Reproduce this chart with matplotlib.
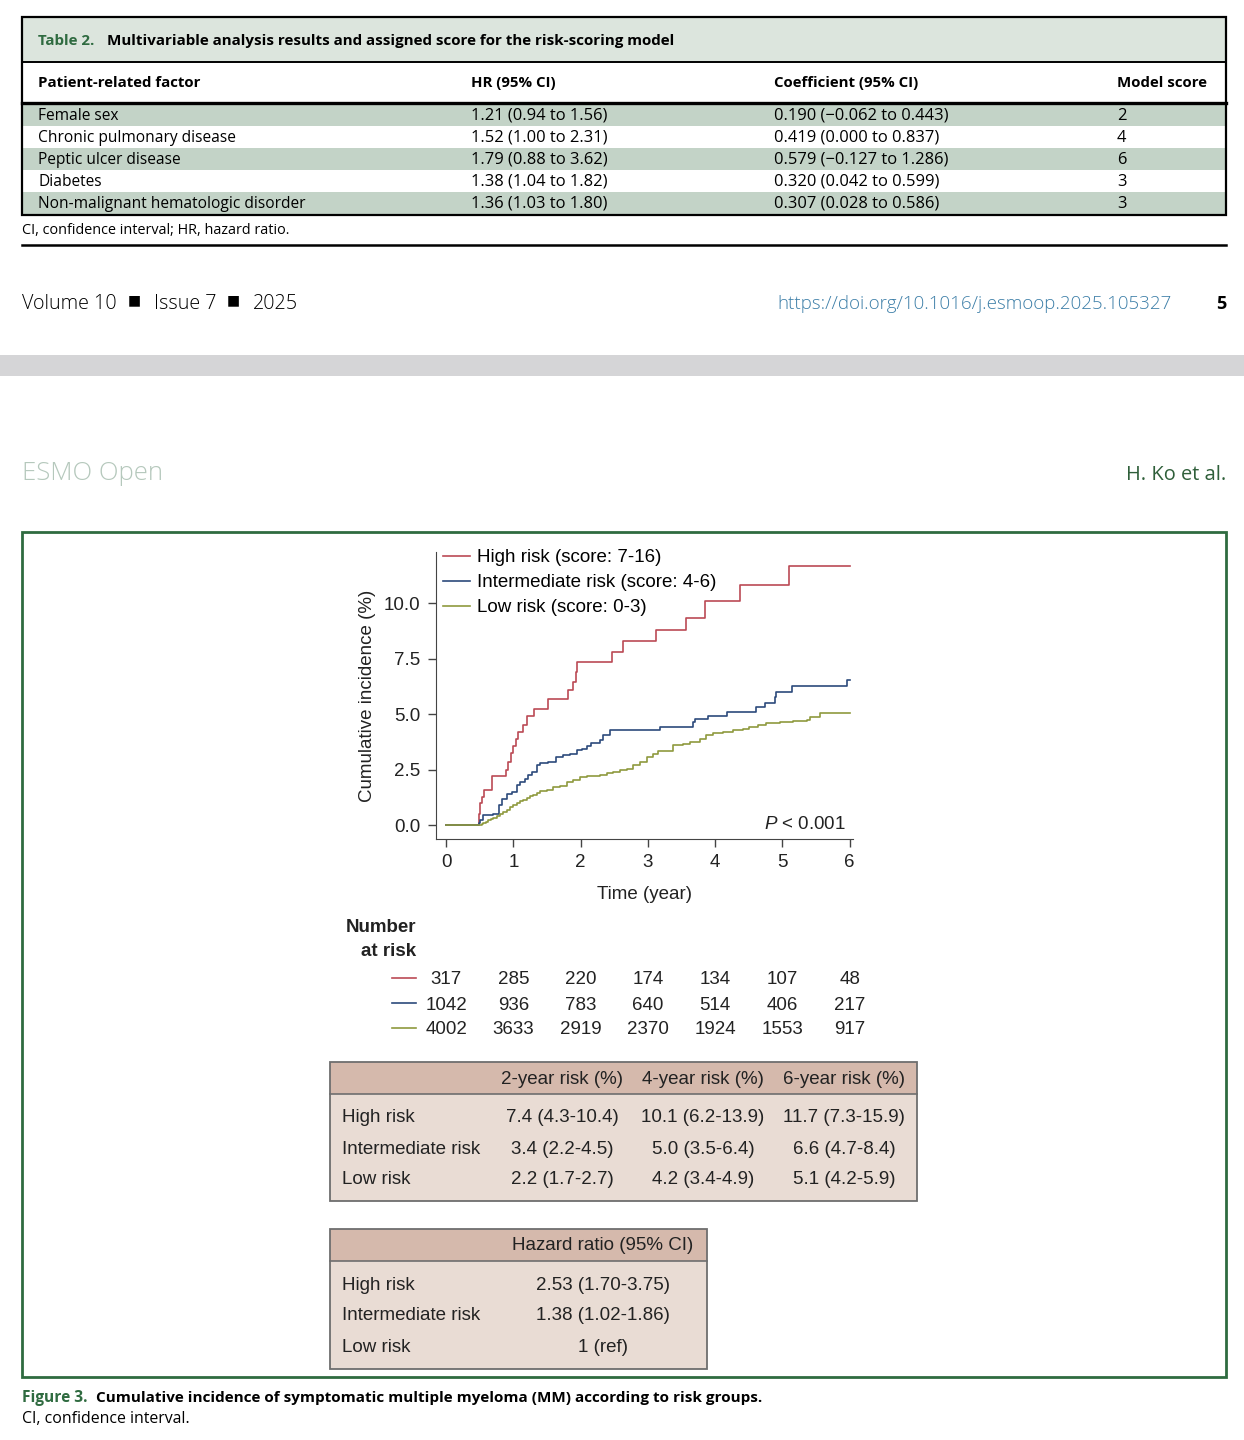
import numpy as np
import matplotlib.pyplot as plt
from matplotlib.patches import Rectangle
from matplotlib import transforms

plt.rcParams['mathtext.fontset'] = 'custom'
plt.rcParams['mathtext.it'] = 'Liberation Sans:italic'
plt.rcParams['mathtext.rm'] = 'Liberation Sans'

# ---- Table 2 data ----
factors = ["Female sex", "Chronic pulmonary disease", "Peptic ulcer disease",
           "Diabetes", "Non-malignant hematologic disorder"]
hr_ci = ["1.21 (0.94 to 1.56)", "1.52 (1.00 to 2.31)", "1.79 (0.88 to 3.62)",
         "1.38 (1.04 to 1.82)", "1.36 (1.03 to 1.80)"]
coef_ci = ["0.190 (\u22120.062 to 0.443)", "0.419 (0.000 to 0.837)",
           "0.579 (\u22120.127 to 1.286)", "0.320 (0.042 to 0.599)",
           "0.307 (0.028 to 0.586)"]
model_score = [2, 4, 6, 3, 3]
table_cols = ["Patient-related factor", "HR (95% CI)", "Coefficient (95% CI)", "Model score"]

# ---- cumulative incidence curves (time in years, incidence in %) ----
high_t = [0, 0.495, 0.51, 0.53, 0.56, 0.68, 0.89, 0.92, 0.97, 1.0, 1.04, 1.07,
          1.15, 1.21, 1.31, 1.52, 1.82, 1.89, 1.93, 1.94, 2.46, 2.63, 3.12,
          3.57, 3.85, 4.37, 5.10, 6.0]
high_v = [0, 0.5, 0.98, 1.28, 1.6, 2.2, 2.5, 2.85, 3.23, 3.55, 3.86, 4.2,
          4.5, 4.9, 5.25, 5.66, 6.08, 6.46, 6.9, 7.35, 7.8, 8.3, 8.8,
          9.35, 10.1, 10.8, 11.65, 11.65]

mid_t = [0, 0.495, 0.505, 0.55, 0.70, 0.78, 0.83, 0.90, 0.975, 1.05, 1.10, 1.17,
         1.22, 1.27, 1.35, 1.40, 1.52, 1.64, 1.74, 1.84, 1.94, 2.02, 2.09,
         2.16, 2.29, 2.34, 2.44, 3.18, 3.67, 3.70, 3.90, 4.18, 4.61, 4.74,
         4.89, 4.91, 5.14, 5.96, 6.0]
mid_v = [0, 0.1, 0.23, 0.45, 0.52, 0.9, 1.2, 1.42, 1.5, 1.8, 1.95, 2.1,
         2.25, 2.4, 2.7, 2.78, 2.85, 3.07, 3.15, 3.22, 3.38, 3.45, 3.55,
         3.68, 3.83, 4.08, 4.27, 4.4, 4.65, 4.76, 4.93, 5.1, 5.3, 5.5,
         5.78, 6.0, 6.25, 6.55, 6.55]

low_t = [0, 0.495, 0.53, 0.555, 0.59, 0.629, 0.665, 0.703, 0.75, 0.802, 0.85,
         0.901, 0.95, 1.0, 1.05, 1.099, 1.15, 1.198, 1.25, 1.297, 1.35,
         1.396, 1.495, 1.594, 1.693, 1.792, 1.891, 1.99, 2.089, 2.188, 2.287,
         2.386, 2.485, 2.584, 2.683, 2.782, 2.881, 2.98, 3.08, 3.154, 3.38,
         3.52, 3.63, 3.77, 3.87, 3.97, 4.12, 4.27, 4.42, 4.51, 4.64, 4.76,
         4.96, 5.16, 5.36, 5.41, 5.56, 6.0]
low_v = [0, 0.02, 0.06, 0.1, 0.16, 0.23, 0.28, 0.33, 0.42, 0.5, 0.6,
         0.7, 0.8, 0.9, 1.0, 1.08, 1.15, 1.23, 1.3, 1.38, 1.45,
         1.52, 1.6, 1.7, 1.76, 1.93, 2.03, 2.18, 2.2, 2.22, 2.25,
         2.35, 2.4, 2.5, 2.55, 2.7, 2.85, 3.05, 3.22, 3.34, 3.6,
         3.66, 3.75, 3.9, 4.05, 4.16, 4.2, 4.28, 4.35, 4.43, 4.5, 4.58,
         4.65, 4.7, 4.73, 4.88, 5.05, 5.05]

curve_labels = ["High risk (score: 7-16)", "Intermediate risk (score: 4-6)", "Low risk (score: 0-3)"]
curve_colors = ["#bb4a55", "#2c4a7c", "#8f9a3e"]

risk_times = [0, 1, 2, 3, 4, 5, 6]
at_risk_high = [317, 285, 220, 174, 134, 107, 48]
at_risk_mid = [1042, 936, 783, 640, 514, 406, 217]
at_risk_low = [4002, 3633, 2919, 2370, 1924, 1553, 917]

groups = ["High risk", "Intermediate risk", "Low risk"]
risk_cols = ["2-year risk (%)", "4-year risk (%)", "6-year risk (%)"]
risk_high = ["7.4 (4.3-10.4)", "10.1 (6.2-13.9)", "11.7 (7.3-15.9)"]
risk_mid = ["3.4 (2.2-4.5)", "5.0 (3.5-6.4)", "6.6 (4.7-8.4)"]
risk_low = ["2.2 (1.7-2.7)", "4.2 (3.4-4.9)", "5.1 (4.2-5.9)"]
hazard = ["2.53 (1.70-3.75)", "1.38 (1.02-1.86)", "1 (ref)"]

W, H = 1244, 1440
fig = plt.figure(figsize=(12.44, 14.40), dpi=100)
page = fig.add_axes([0, 0, 1, 1])
page.set_xlim(0, W)
page.set_ylim(H, 0)
page.axis('off')

JF = ['Open Sans', 'DejaVu Sans']
CF = ['Liberation Sans', 'DejaVu Sans']
green = '#2f6b40'
ink = '#222222'


def txt(x, y, s, size=11.2, family=JF, **kw):
    kw.setdefault('va', 'center')
    page.text(x, y + 2, s, fontsize=size, family=family, **kw)


# ---- Table 2 ----
page.add_patch(Rectangle((22, 17), 1204, 45, facecolor='#dce5dd', edgecolor='none'))
for i in range(len(factors)):
    if i % 2 == 0:
        page.add_patch(Rectangle((22, 104 + 22 * i), 1204, 22, facecolor='#c3d3c7', edgecolor='none'))
page.add_patch(Rectangle((22, 17), 1204, 198, facecolor='none', edgecolor='black', lw=1.6))
page.plot([22, 1226], [62, 62], color='black', lw=1.4)
page.plot([22, 1226], [103, 103], color='black', lw=2.4)
txt(38, 39, "Table 2.", size=10.9, color=green, weight='bold')
txt(107, 39, "Multivariable analysis results and assigned score for the risk-scoring model",
    size=10.9, weight='bold')
col_x = [38, 471, 774, 1117]
for cx, c in zip(col_x, table_cols):
    txt(cx, 81, c, size=10.8, weight='bold')
for i in range(len(factors)):
    y = 114 + 22 * i
    txt(col_x[0], y, factors[i])
    txt(col_x[1], y, hr_ci[i], size=11.9)
    txt(col_x[2], y, coef_ci[i], size=11.9)
    txt(col_x[3], y, str(model_score[i]), size=11.9)
txt(22, 228, "CI, confidence interval; HR, hazard ratio.", size=10.4)
page.plot([22, 1226], [245, 245], color='black', lw=1.8)

# ---- page footer / header ----
txt(22, 302, "Volume 10", size=14.2, weight='light')
txt(134, 298, "\u25a0", size=10, family=['DejaVu Sans'], ha='center')
txt(154, 302, "Issue 7", size=14.2, weight='light')
txt(233, 298, "\u25a0", size=10, family=['DejaVu Sans'], ha='center')
txt(253, 302, "2025", size=14.2, weight='light')
txt(1172, 302, "https://doi.org/10.1016/j.esmoop.2025.105327", size=13.5, weight='light',
    color='#3d7fa8', ha='right')
txt(1226, 302, "5", size=13, weight='bold', ha='right')
page.add_patch(Rectangle((0, 355), W, 21, facecolor='#d5d5d7', edgecolor='none'))
txt(22, 471, "ESMO Open", size=18.5, weight='light', color='#b5c8bc')
txt(1226, 473, "H. Ko et al.", size=14.4, color='#2f5f3a', ha='right')

# ---- figure frame ----
page.add_patch(Rectangle((22, 532), 1204, 845, facecolor='none', edgecolor=green, lw=2))

# ---- cumulative incidence plot ----
ax = fig.add_axes([436 / W, 1 - 839 / H, 417 / W, 287 / H])
ax.patch.set_alpha(0)
for t, v, lab, col in zip([high_t, mid_t, low_t], [high_v, mid_v, low_v], curve_labels, curve_colors):
    ax.plot(t, v, drawstyle='steps-post', color=col, lw=1.2, label=lab)
ax.set_xlim(-0.15, 6.05)
ax.set_ylim(-0.62, 12.3)
ax.set_xticks(risk_times)
ax.set_yticks([0, 2.5, 5, 7.5, 10])
ax.set_yticklabels(["0.0", "2.5", "5.0", "7.5", "10.0"])
for s in ['top', 'right']:
    ax.spines[s].set_visible(False)
for s in ['left', 'bottom']:
    ax.spines[s].set_color('#444444')
ax.tick_params(colors='#444444', labelcolor=ink, length=6, width=1, pad=5, labelsize=13.5)
for lab in ax.get_xticklabels() + ax.get_yticklabels():
    lab.set_family(CF)
ax.set_xlabel("Time (year)", fontsize=13.5, family=CF, color=ink)
ax.set_ylabel("Cumulative incidence (%)", fontsize=13.5, family=CF, color=ink)
ax.xaxis.set_label_coords(0.5, -0.163)
ax.yaxis.set_label_coords(-0.145, 0.5)
ax.text(5.95, 0.05, r"$\it{P}$ < 0.001", ha='right', va='center', fontsize=13.5, family=CF, color=ink)
ax.legend(loc='upper left', bbox_to_anchor=(443 / W, 1 - 549 / H), bbox_transform=fig.transFigure,
          frameon=False, borderpad=0, borderaxespad=0, handlelength=1.45, handletextpad=0.35,
          labelspacing=0.42, prop={'family': CF, 'size': 13.5})

# ---- number at risk ----
txt(416, 926, "Number", size=13.5, family=CF, weight='bold', ha='right', color=ink)
txt(416, 949, "at risk", size=13.5, family=CF, weight='bold', ha='right', color=ink)
blend = transforms.blended_transform_factory(ax.transData, page.transData)
for y, counts, col in zip([978, 1003, 1028], [at_risk_high, at_risk_mid, at_risk_low], curve_colors):
    page.plot([392, 416], [y, y], color=col, lw=1.2)
    for t, n in zip(risk_times, counts):
        page.text(t, y + 2, str(n), transform=blend, ha='center', va='center',
                  fontsize=13.5, family=CF, color=ink)

# ---- risk tables ----
def box(x0, y0, x1, y1, hy):
    page.add_patch(Rectangle((x0, y0), x1 - x0, y1 - y0, facecolor='#e9dcd4', edgecolor='none'))
    page.add_patch(Rectangle((x0, y0), x1 - x0, hy - y0, facecolor='#d5b9ac', edgecolor='none'))
    page.plot([x0, x1], [hy, hy], color='#6e6e6e', lw=1.2)
    page.add_patch(Rectangle((x0, y0), x1 - x0, y1 - y0, facecolor='none', edgecolor='#6e6e6e', lw=1.3))


box(330, 1062, 917, 1201, 1094)
rc_x = [562, 703, 844]
for cx, c in zip(rc_x, risk_cols):
    txt(cx, 1077, c, size=13.5, family=CF, ha='center', color=ink)
for y, g, vals in zip([1115, 1147, 1178], groups, [risk_high, risk_mid, risk_low]):
    txt(342, y, g, size=13.5, family=CF, color=ink)
    for cx, v in zip(rc_x, vals):
        txt(cx, y, v, size=13.5, family=CF, ha='center', color=ink)

box(330, 1229, 707, 1369, 1261)
txt(603, 1244, "Hazard ratio (95% CI)", size=13.5, family=CF, ha='center', color=ink)
for y, g, v in zip([1283, 1314, 1346], groups, hazard):
    txt(342, y, g, size=13.5, family=CF, color=ink)
    txt(603, y, v, size=13.5, family=CF, ha='center', color=ink)

# ---- caption ----
txt(22, 1396, "Figure 3.", size=11.2, color=green, weight='bold')
txt(96, 1396, "Cumulative incidence of symptomatic multiple myeloma (MM) according to risk groups.",
    size=11.0, weight='bold')
txt(22, 1417, "CI, confidence interval.", size=11.4)

fig.savefig('out.png', dpi=100)
